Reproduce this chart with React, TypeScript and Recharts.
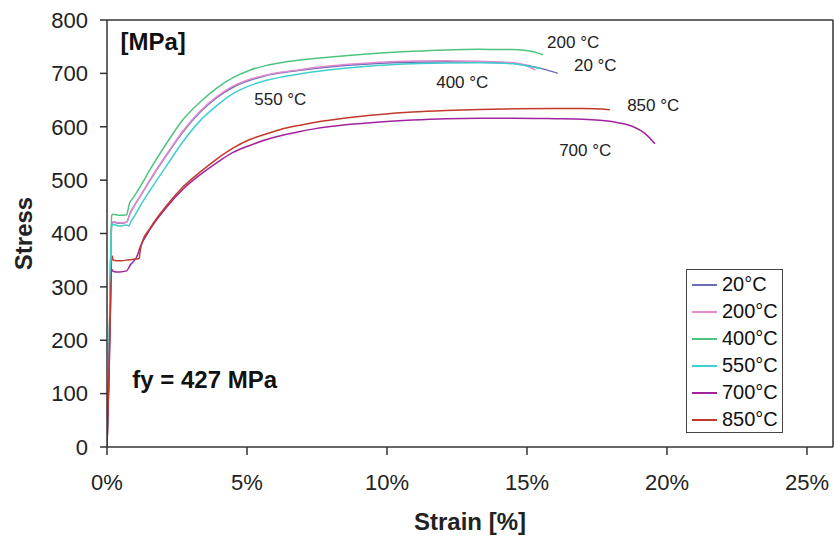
import React from 'react';
import { LineChart, Line, XAxis, YAxis, ReferenceLine, ReferenceDot, Legend } from 'recharts';

const FONT = '"Liberation Sans", Arial, Helvetica, sans-serif';

const xTicks = [0, 5, 10, 15, 20, 25];
const yTicks = [0, 100, 200, 300, 400, 500, 600, 700, 800];
const xMax = 25.93;

const strain20 = [0, 0.06, 0.17, 0.22, 0.45, 0.7, 0.76, 0.82, 0.95, 1.19, 1.54, 2.14, 2.71, 3.32, 3.93, 4.5, 5.1, 5.7, 6.2, 6.9, 7.4, 8.6, 9.75, 10.9, 12.1, 13.3, 14.5, 15.1, 15.6, 16.1];
const stress20 = [0, 130, 418, 421, 419, 421, 428, 437, 450, 470, 500, 548, 590, 627, 655, 674, 687, 696, 701, 706, 709, 715, 719, 721, 722, 721, 719, 714, 708, 700];

const strain200 = [0, 0.06, 0.17, 0.22, 0.45, 0.7, 0.76, 0.82, 0.95, 1.19, 1.54, 2.14, 2.71, 3.32, 3.93, 4.5, 5.1, 5.7, 6.2, 6.9, 7.4, 8.6, 9.75, 10.9, 12.1, 13.3, 14.5, 14.9, 15.3];
const stress200 = [0, 125, 420, 422, 420, 421, 427, 436, 449, 470, 501, 549, 592, 629, 657, 676, 689, 697, 702, 707, 711, 717, 721, 723, 723.5, 722.5, 720, 716, 706];

const strain400 = [0, 0.06, 0.17, 0.22, 0.45, 0.7, 0.74, 0.8, 0.95, 1.19, 1.54, 2.14, 2.71, 3.32, 3.93, 4.5, 5.1, 5.7, 6.2, 6.9, 7.4, 8.6, 9.75, 10.9, 12.1, 13.3, 14.5, 15.1, 15.57];
const stress400 = [0, 135, 434, 436, 434, 435, 442, 456, 468, 488, 520, 570, 613, 646, 673, 692, 706, 715, 720, 725, 728, 733.5, 738, 741.5, 744, 745, 744.5, 742, 735];

const strain550 = [0, 0.06, 0.17, 0.22, 0.45, 0.7, 0.78, 0.85, 0.95, 1.19, 1.54, 2.14, 2.71, 3.32, 3.93, 4.5, 5.1, 5.7, 6.2, 6.9, 7.4, 8.6, 9.75, 10.9, 12.1, 13.3, 14.5, 15.0, 15.5];
const stress550 = [0, 120, 415, 417, 414, 416, 414, 422, 430, 452, 481, 528, 572, 611, 640, 662, 677, 687, 693, 699, 703, 710, 715, 718, 719.5, 720, 718, 714, 709];

const strain700 = [0, 0.06, 0.18, 0.22, 0.45, 0.7, 0.83, 1.06, 1.19, 1.54, 2.14, 2.71, 3.32, 3.93, 4.5, 5.1, 5.7, 6.2, 6.9, 7.4, 8.6, 9.75, 10.9, 12.1, 13.3, 14.5, 16.0, 17.0, 17.6, 18.2, 18.8, 19.2, 19.57];
const stress700 = [0, 110, 332, 329, 328, 330, 341, 356, 375, 408, 450, 483, 510, 533, 552, 565, 576, 583, 591, 596, 604, 609, 612.5, 615, 616, 616, 615, 614, 612, 608, 600, 588, 568];

const strain850 = [0, 0.06, 0.19, 0.22, 0.5, 0.8, 1.0, 1.15, 1.17, 1.25, 1.54, 2.14, 2.71, 3.32, 3.93, 4.5, 5.1, 5.7, 6.2, 6.9, 7.4, 8.6, 9.75, 10.9, 12.1, 13.3, 14.5, 16.0, 17.0, 17.96];
const stress850 = [0, 115, 358, 350, 349, 351, 352, 353, 362, 383, 410, 453, 487, 515, 540, 560, 576, 587, 595, 603, 608, 617, 623, 627.5, 630.5, 632.5, 633.5, 634, 634, 632];

const seriesNames = ['20°C', '200°C', '400°C', '550°C', '700°C', '850°C'];
const seriesColors = ['#6b6bb8', '#e08ccf', '#4dc47d', '#3fcfcf', '#a3229e', '#c0392b'];
const seriesStrain = [strain20, strain200, strain400, strain550, strain700, strain850];
const seriesStress = [stress20, stress200, stress400, stress550, stress700, stress850];

const annoText = ['200 °C', '20 °C', '400 °C', '850 °C', '700 °C', '550 °C'];
const annoX = [16.65, 17.44, 12.69, 19.51, 17.08, 6.19];
const annoY = [758, 715, 683, 640, 557, 652];

const boldText = ['[MPa]', 'fy = 427 MPa'];
const boldX = [1.65, 3.49];
const boldY = [760, 126];

const series = seriesNames.map((name, i) => ({
  name,
  color: seriesColors[i],
  data: seriesStrain[i].map((x, j) => ({ x, y: seriesStress[i][j] })),
}));

const LegendBox = () => (
  <div
    style={{
      boxSizing: 'border-box',
      width: 97,
      height: 164,
      border: '1px solid #444',
      background: '#fff',
      paddingTop: 1,
      fontFamily: FONT,
    }}
  >
    {series.map((s) => (
      <div key={s.name} style={{ display: 'flex', alignItems: 'center', height: 27 }}>
        <span
          style={{
            display: 'inline-block',
            width: 25,
            height: 0,
            borderTop: `2px solid ${s.color}`,
            marginLeft: 5,
            marginRight: 5,
          }}
        />
        <span style={{ fontSize: 20, color: '#111', lineHeight: '27px' }}>{s.name}</span>
      </div>
    ))}
  </div>
);

export default function App() {
  return (
    <div style={{ position: 'absolute', left: 0, top: 0, width: 834, height: 539, background: '#fff' }}>
      <LineChart width={834} height={539} margin={{ top: 20, right: 1, bottom: 0, left: 0 }}>
        <XAxis
          type="number"
          dataKey="x"
          domain={[0, xMax]}
          ticks={xTicks}
          allowDataOverflow
          tickFormatter={(v: number) => `${v}%`}
          height={92}
          tickSize={8}
          tickMargin={19}
          stroke="#333"
          strokeWidth={1.5}
          tick={{ fill: '#222', fontSize: 22, fontFamily: FONT }}
          label={{
            content: (p: any) => {
              const vb = p.viewBox || {};
              return (
                <text
                  x={vb.x + vb.width / 2}
                  y={530}
                  textAnchor="middle"
                  fontFamily={FONT}
                  fontWeight="bold"
                  fontSize={24}
                  fill="#222"
                >
                  Strain [%]
                </text>
              );
            },
          }}
        />
        <YAxis
          type="number"
          domain={[0, 800]}
          ticks={yTicks}
          width={107}
          tickSize={7}
          tickMargin={12}
          stroke="#333"
          strokeWidth={1.5}
          tick={{ fill: '#222', fontSize: 22, fontFamily: FONT }}
          label={{
            content: (p: any) => {
              const vb = p.viewBox || {};
              const cy = vb.y + vb.height / 2;
              return (
                <text
                  x={0}
                  y={0}
                  transform={`translate(32, ${cy}) rotate(-90)`}
                  textAnchor="middle"
                  fontFamily={FONT}
                  fontWeight="bold"
                  fontSize={24}
                  fill="#222"
                >
                  Stress
                </text>
              );
            },
          }}
        />
        <ReferenceLine y={800} stroke="#333" strokeWidth={1.5} />
        <ReferenceLine x={xMax} stroke="#333" strokeWidth={1.5} />
        {series.map((s) => (
          <Line
            key={s.name}
            data={s.data}
            dataKey="y"
            name={s.name}
            type="monotoneX"
            stroke={s.color}
            strokeWidth={1.5}
            dot={false}
            activeDot={false}
            isAnimationActive={false}
          />
        ))}
        {annoText.map((t, i) => (
          <ReferenceDot
            key={t}
            x={annoX[i]}
            y={annoY[i]}
            r={1}
            fill="none"
            stroke="none"
            label={{ value: t, position: 'center', fontSize: 17, fill: '#222', fontFamily: FONT }}
          />
        ))}
        {boldText.map((t, i) => (
          <ReferenceDot
            key={t}
            x={boldX[i]}
            y={boldY[i]}
            r={1}
            fill="none"
            stroke="none"
            label={{ value: t, position: 'center', fontSize: 24, fontWeight: 'bold', fill: '#111', fontFamily: FONT }}
          />
        ))}
        <Legend
          layout="vertical"
          align="center"
          verticalAlign="middle"
          content={() => <LegendBox />}
          wrapperStyle={{ position: 'absolute', left: 686, top: 269, width: 97, height: 164 }}
        />
      </LineChart>
    </div>
  );
}
